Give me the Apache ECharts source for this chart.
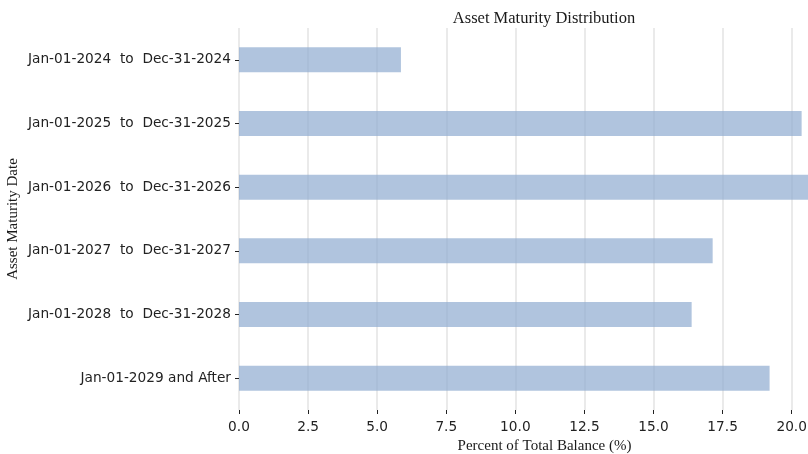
<!DOCTYPE html>
<html>
<head>
<meta charset="utf-8">
<script src="https://cdn.jsdelivr.net/npm/echarts@6/dist/echarts.min.js"></script>
<style>html,body{margin:0;padding:0;background:#fff}#c{width:808px;height:454px}</style>
</head>
<body>
<div id="c"></div>
<script>
const categories = [
  "Jan-01-2024  to  Dec-31-2024",
  "Jan-01-2025  to  Dec-31-2025",
  "Jan-01-2026  to  Dec-31-2026",
  "Jan-01-2027  to  Dec-31-2027",
  "Jan-01-2028  to  Dec-31-2028",
  "Jan-01-2029 and After"
];
const percentValues = [5.86, 20.36, 21.06, 17.14, 16.38, 19.20];
const xTickInterval = 2.5;
const xMax = 22.11;

const chart = echarts.init(document.getElementById('c'), null, {renderer: 'canvas'});
chart.setOption({
  animation: false,
  backgroundColor: '#ffffff',
  title: {
    text: 'Asset Maturity Distribution',
    left: 539,
    top: 5,
    textAlign: 'center',
    textStyle: {fontFamily: 'Liberation Serif', fontSize: 16.5, fontWeight: 'normal', color: '#1a1a1a'}
  },
  grid: {left: 239, width: 611, top: 28, bottom: 44, containLabel: false, outerBoundsMode: 'none'},
  xAxis: {
    type: 'value',
    min: 0,
    max: xMax,
    interval: xTickInterval,
    name: 'Percent of Total Balance (%)',
    nameLocation: 'middle',
    nameGap: 27,
    nameTextStyle: {fontFamily: 'Liberation Serif', fontSize: 15, color: '#1a1a1a'},
    axisLine: {show: false},
    axisTick: {show: true, length: 4, lineStyle: {color: '#222', width: 1}},
    axisLabel: {
      margin: 10,
      fontFamily: 'DejaVu Sans', fontSize: 13.7, color: '#222',
      formatter: v => v.toFixed(1),
      showMaxLabel: false
    },
    splitLine: {show: true, lineStyle: {color: '#e3e3e3', width: 1.5}}
  },
  yAxis: {
    type: 'category',
    data: categories,
    inverse: true,
    name: 'Asset Maturity Date',
    nameLocation: 'middle',
    nameGap: 218,
    nameMoveOverlap: false,
    nameRotate: 90,
    nameTextStyle: {fontFamily: 'Liberation Serif', fontSize: 15, color: '#1a1a1a'},
    axisLine: {show: false},
    axisTick: {show: true, alignWithLabel: true, length: 4, lineStyle: {color: '#222', width: 1}},
    axisLabel: {margin: 8, fontFamily: 'DejaVu Sans', fontSize: 13.7, color: '#222'},
    splitLine: {show: false}
  },
  series: [{
    type: 'bar',
    data: percentValues,
    barWidth: 25,
    clip: true,
    itemStyle: {color: 'rgba(142,171,208,0.7)'}
  }]
});
</script>
</body>
</html>
